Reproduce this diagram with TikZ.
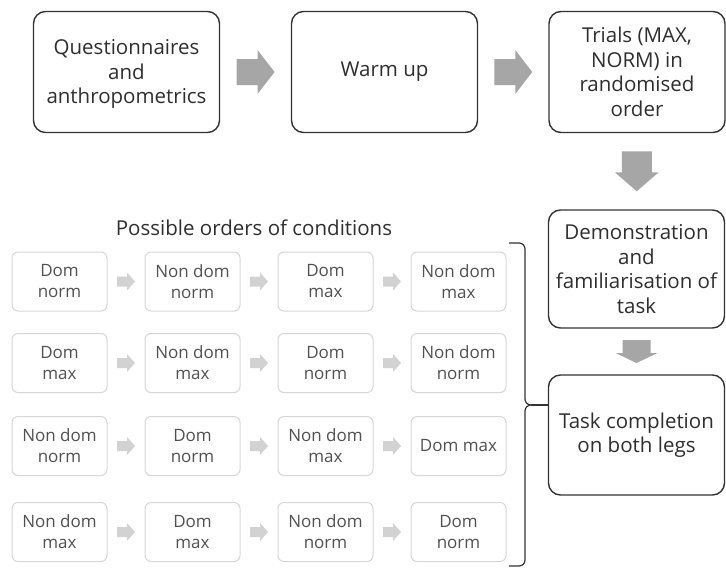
\documentclass[tikz,border=0pt]{standalone}
\usepackage{fontspec}
\setmainfont{Open Sans}
\usetikzlibrary{calc}
\definecolor{maintext}{HTML}{2E2E2E}
\definecolor{subtext}{HTML}{505050}
\definecolor{mainborder}{HTML}{333333}
\definecolor{subborder}{HTML}{D6D6D6}
\definecolor{bigarrow}{HTML}{A6A6A6}
\definecolor{smallarrow}{HTML}{D2D2D2}
\tikzset{
  mainbox/.style={draw=mainborder, line width=1.4pt, rounded corners=12pt,
    align=center, text=maintext, inner sep=0pt,
    font=\fontsize{20.5}{24.5}\selectfont},
  subbox/.style={draw=subborder, line width=1pt, rounded corners=6pt,
    minimum width=95pt, minimum height=59pt, align=center, text=subtext,
    inner sep=0pt, font=\fontsize{17}{21}\selectfont},
  pics/fatarrow/.style n args={5}{code={
    \fill[#5] (-#1/2,-#2) -- (#1/2-#4,-#2) -- (#1/2-#4,-#3) -- (#1/2,0)
      -- (#1/2-#4,#3) -- (#1/2-#4,#2) -- (-#1/2,#2) -- cycle;}},
}
\begin{document}
\begin{tikzpicture}[x=1pt,y=-1pt]
\useasboundingbox (0,0) rectangle (726,568);
% main boxes
\node[mainbox, minimum width=186pt, minimum height=121pt] (q) at (126.5,72) {\\[-5pt]Questionnaires\\and\\anthropometrics};
\node[mainbox, minimum width=186pt, minimum height=121pt] (w) at (384.5,72) {Warm up};
\node[mainbox, minimum width=176pt, minimum height=121pt] (t) at (637,72) {Trials (MAX,\\NORM) in\\randomised\\order};
\node[mainbox, minimum width=176pt, minimum height=118pt] (d) at (636.5,269) {Demonstration\\and\\familiarisation of\\task};
\node[mainbox, minimum width=176pt, minimum height=120pt] (c) at (636.5,435) {Task completion\\on both legs};
% big arrows
\path ($(q.east)!0.5!(w.west)$) pic {fatarrow={38}{13}{22}{17}{bigarrow}};
\path ($(w.east)!0.5!(t.west)$) pic {fatarrow={38}{13}{22}{17}{bigarrow}};
\path ($(t.south)!0.5!(d.north)$) pic[rotate=-90] {fatarrow={40}{15}{22}{19}{bigarrow}};
\path ($(d.south)!0.5!(c.north)$) pic[rotate=-90] {fatarrow={23}{14}{21}{10}{bigarrow}};
% title
\node[text=maintext, font=\fontsize{20.5}{24}\selectfont] (title) at (254,228) {Possible orders of conditions};
% small boxes
\foreach \r/\y/\a/\b/\cc/\dd in {
  1/281.5/{Dom\\norm}/{Non dom\\norm}/{Dom\\max}/{Non dom\\max},
  2/363/{Dom\\max}/{Non dom\\max}/{Dom\\norm}/{Non dom\\norm},
  3/446/{Non dom\\norm}/{Dom\\norm}/{Non dom\\max}/{Dom max},
  4/532/{Non dom\\max}/{Dom\\max}/{Non dom\\norm}/{Dom\\norm}}{
  \node[subbox] (s\r a) at (59.5,\y) {\a};
  \node[subbox] (s\r b) at (192.5,\y) {\b};
  \node[subbox] (s\r c) at (325.5,\y) {\cc};
  \node[subbox] (s\r d) at (458.5,\y) {\dd};
  \path ($(s\r a.east)!0.5!(s\r b.west)$) pic {fatarrow={18}{5}{9}{8}{smallarrow}};
  \path ($(s\r b.east)!0.5!(s\r c.west)$) pic {fatarrow={18}{5}{9}{8}{smallarrow}};
  \path ($(s\r c.east)!0.5!(s\r d.west)$) pic {fatarrow={18}{5}{9}{8}{smallarrow}};
}
% brace
\coordinate (btop) at (509,243);
\coordinate (bbot) at (509,566);
\coordinate (btip) at (531,405);
\draw[mainborder, line width=1.2pt]
  (btop) -- (519,243) to[out=0,in=90] (525,249) -- (525,399)
  to[out=-90,in=180] (btip) to[out=180,in=90] (525,411) -- (525,560)
  to[out=-90,in=0] (519,566) -- (bbot);
\draw[mainborder, line width=1.2pt] (btip) -- (btip -| c.west);
\end{tikzpicture}
\end{document}
